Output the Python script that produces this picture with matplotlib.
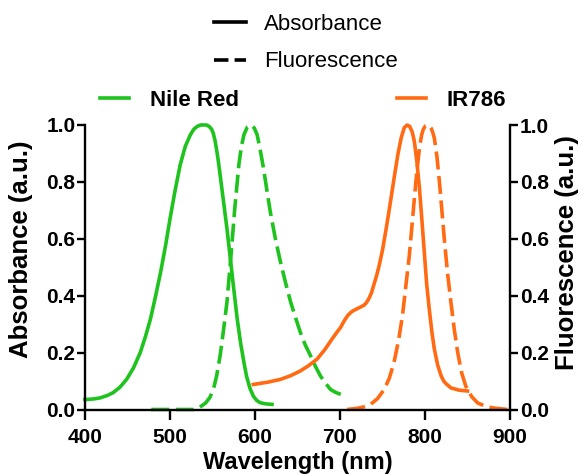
import matplotlib
matplotlib.use("Agg")
import matplotlib.pyplot as plt
from matplotlib.lines import Line2D

plt.rcParams['font.family'] = ['Liberation Sans', 'DejaVu Sans']

# ---- data (wavelength nm, normalized intensity) ----
nile_abs_x = [400, 410, 418, 426, 433, 441, 449, 457, 465, 471, 477, 483, 489, 495, 500, 506, 512,
              518, 524, 528, 532, 536, 539.5, 543, 546, 549, 551, 553, 555, 557, 559, 563, 567, 571,
              575, 579, 583, 587, 590, 594, 598, 602, 606, 612, 620]
nile_abs_y = [0.035, 0.037, 0.041, 0.049, 0.059, 0.078, 0.106, 0.146, 0.20, 0.255, 0.318, 0.398,
              0.483, 0.58, 0.67, 0.77, 0.86, 0.925, 0.966, 0.985, 0.995, 1.0, 1.0, 1.0, 0.995, 0.985,
              0.97, 0.945, 0.91, 0.87, 0.824, 0.73, 0.636, 0.53, 0.424, 0.32, 0.235, 0.165, 0.118,
              0.075, 0.047, 0.032, 0.024, 0.02, 0.018]

nile_fl_x = [478, 500, 528, 535, 542, 547, 551, 555, 559, 563, 567, 572, 576, 581, 584, 587, 591,
             595.5, 599, 602.5, 606, 610, 614, 618, 624, 630, 636, 642, 648, 653.5, 659, 665.5, 671,
             677, 683, 689, 695, 701]
nile_fl_y = [0.0, 0.0, 0.0, 0.008, 0.023, 0.043, 0.07, 0.12, 0.19, 0.28, 0.377, 0.55, 0.70, 0.86,
             0.925, 0.966, 0.993, 1.0, 0.99, 0.966, 0.915, 0.848, 0.77, 0.695, 0.60, 0.518, 0.445,
             0.377, 0.32, 0.27, 0.228, 0.188, 0.152, 0.118, 0.092, 0.07, 0.06, 0.053]

ir_abs_x = [598, 615, 630, 642, 653, 663, 673, 682, 690, 696, 701, 705, 709, 713, 716, 720, 724,
            728, 731, 734, 737, 740, 743, 746, 750, 754, 757, 760, 764, 768, 772, 775.5, 779, 782,
            785, 787.5, 790.5, 793.5, 796.5, 799.5, 802, 805, 808, 811, 815, 819, 822, 825, 830.5,
            840, 850]
ir_abs_y = [0.088, 0.096, 0.106, 0.119, 0.135, 0.154, 0.177, 0.21, 0.245, 0.27, 0.29, 0.312, 0.33,
            0.342, 0.348, 0.354, 0.36, 0.366, 0.375, 0.39, 0.41, 0.44, 0.47, 0.505, 0.56, 0.63,
            0.685, 0.742, 0.82, 0.895, 0.955, 0.99, 1.0, 0.995, 0.975, 0.942, 0.87, 0.777, 0.66,
            0.54, 0.44, 0.353, 0.275, 0.212, 0.155, 0.118, 0.1, 0.09, 0.076, 0.068, 0.065]

ir_fl_x = [708.5, 720, 728, 736, 744, 752, 758, 763.5, 769, 773.5, 777.5, 781.5, 784.5, 787.5,
           790.5, 793.5, 796, 798, 800.5, 803, 805, 807, 809, 811, 814, 817, 820, 823, 826.5, 830.5,
           834.5, 838.5, 843, 848, 855, 862, 872, 881.5, 897]
ir_fl_y = [0.0, 0.004, 0.009, 0.018, 0.038, 0.07, 0.11, 0.165, 0.245, 0.33, 0.435, 0.54, 0.64, 0.742,
           0.84, 0.919, 0.965, 0.985, 0.997, 1.0, 0.998, 0.99, 0.975, 0.954, 0.89, 0.80, 0.695,
           0.589, 0.48, 0.377, 0.28, 0.20, 0.13, 0.082, 0.045, 0.023, 0.01, 0.005, 0.0]

x_ticks = [400, 500, 600, 700, 800, 900]
y_ticks = [0.0, 0.2, 0.4, 0.6, 0.8, 1.0]

GREEN = '#1ec31e'
ORANGE = '#ff6a13'
LW = 2.6
DASH = (5, 1.8)

fig = plt.figure(figsize=(5.84, 4.74), dpi=100)
ax = fig.add_axes([85 / 584, 1 - 409.5 / 474, (510 - 85) / 584, (409.5 - 125) / 474])
ax2 = ax.twinx()

kw = dict(lw=LW, clip_on=False, solid_joinstyle='round', dash_joinstyle='round')
ax.plot(nile_abs_x, nile_abs_y, color=GREEN, **kw)
l, = ax.plot(nile_fl_x, nile_fl_y, color=GREEN, **kw)
l.set_dashes(DASH)
ax.plot(ir_abs_x, ir_abs_y, color=ORANGE, **kw)
l, = ax.plot(ir_fl_x, ir_fl_y, color=ORANGE, **kw)
l.set_dashes(DASH)

for a in (ax, ax2):
    a.set_xlim(400, 900)
    a.set_ylim(0, 1.0)
    a.spines['top'].set_visible(False)
    for s in a.spines.values():
        s.set_linewidth(1.7)
    a.set_yticks(y_ticks)
    a.set_yticklabels([f"{v:.1f}" for v in y_ticks], fontsize=15, fontweight='bold')
    a.tick_params(axis='y', length=6, width=1.7, pad=1, direction='out')

ax.set_xticks(x_ticks)
ax.set_xticklabels([str(v) for v in x_ticks], fontsize=15, fontweight='bold')
ax.tick_params(axis='x', length=7, width=1.7, pad=6, direction='out')
ax.spines['right'].set_visible(False)
ax2.spines['left'].set_visible(False)
ax2.spines['bottom'].set_visible(False)

ax.set_xlabel('Wavelength (nm)', fontsize=17, fontweight='bold', labelpad=3)
ax.set_ylabel('Absorbance (a.u.)', fontsize=18.5, fontweight='bold')
ax2.set_ylabel('Fluorescence (a.u.)', fontsize=18.5, fontweight='bold')
ax.yaxis.set_label_coords(-52 / 425, 0.565)
ax2.yaxis.set_label_coords(1 + 45 / 425, 0.55)

# legends
h_abs = Line2D([], [], color='black', lw=LW)
h_fl = Line2D([], [], color='black', lw=LW)
h_fl.set_dashes((4, 1.7))
fig.legend([h_abs, h_fl], ['Absorbance', 'Fluorescence'], loc='center left',
           bbox_to_anchor=(214 / 584, 1 - 43 / 474), frameon=False, fontsize=16,
           borderpad=0, borderaxespad=0, handlelength=1.45, handletextpad=0.8,
           labelspacing=0.75)
h_nr = Line2D([], [], color=GREEN, lw=LW)
fig.legend([h_nr], ['Nile Red'], loc='center left', bbox_to_anchor=(100 / 584, 1 - 100 / 474),
           frameon=False, prop={'size': 16, 'weight': 'bold'}, borderpad=0, borderaxespad=0,
           handlelength=1.3, handletextpad=0.95)
h_ir = Line2D([], [], color=ORANGE, lw=LW)
fig.legend([h_ir], ['IR786'], loc='center left', bbox_to_anchor=(397 / 584, 1 - 100 / 474),
           frameon=False, prop={'size': 16, 'weight': 'bold'}, borderpad=0, borderaxespad=0,
           handlelength=1.3, handletextpad=0.95)

fig.savefig('out.png', dpi=100)
